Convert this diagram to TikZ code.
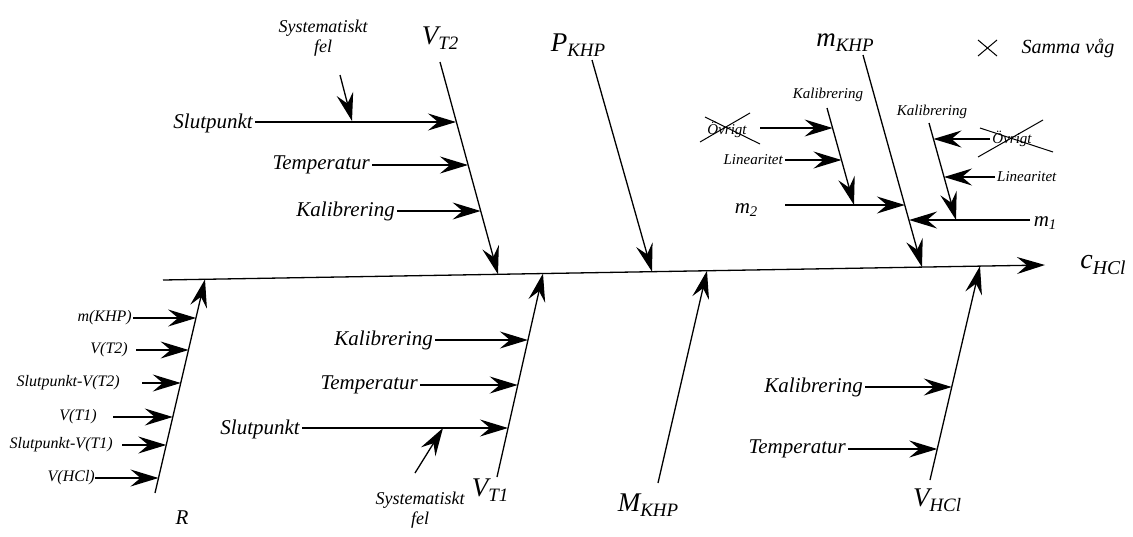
\documentclass[tikz,border=0pt]{standalone}
\usepackage{fontspec}
\setmainfont{Liberation Serif}
\usetikzlibrary{arrows.meta}
\newcommand{\symlab}[3]{{\fontsize{#3}{#3}\selectfont\itshape #1\raisebox{-0.4ex}{\fontsize{0.7\dimexpr#3pt\relax}{10}\selectfont #2}}}
\tikzset{
  arr/.style={line width=1.3pt,-{Stealth[length=28pt,width=17pt,inset=10pt]}},
  big/.style={font=\fontsize{21}{24}\selectfont\itshape, inner sep=2pt},
  mid/.style={font=\fontsize{18}{20}\selectfont\itshape, inner sep=1pt, align=center},
  sml/.style={font=\fontsize{16}{18}\selectfont\itshape, inner sep=0pt},
  tiny/.style={font=\fontsize{15}{17}\selectfont\itshape, inner sep=2pt},
  lab/.style={inner sep=0pt},
  strike/.style={line width=1pt}
}
\begin{document}
\begin{tikzpicture}[x=1pt,y=-1pt]
\useasboundingbox (0,0) rectangle (1133,536);
% spine
\coordinate (s0) at (163,280);
\coordinate (s1) at (1045,265);
\draw[arr] (s0) -- (s1);
\node[lab] (c) at (1103,265) {\symlab{c}{HCl}{28}};
% spine attachment points
\coordinate (aR) at (205,279.3);
\coordinate (aVT2) at (498,274.3);
\coordinate (aVT1) at (543,273.5);
\coordinate (aP) at (652,271.7);
\coordinate (aM) at (707,270.7);
\coordinate (amK) at (922,267.1);
\coordinate (aVH) at (980,266.1);

% ---------- V_T2 ----------
\node[lab] (VT2) at (440,38) {\symlab{V}{T2}{27}};
\coordinate (vt2top) at (440,62);
\draw[arr] (vt2top) -- (aVT2);
\node[mid] (sys1) at (323,38) {Systematiskt\\fel};
\coordinate (sys1s) at (340,75);
\coordinate (sys1e) at (352,121);
\draw[arr] (sys1s) -- (sys1e);
\node[big, anchor=east] (slut1) at (255,123) {Slutpunkt};
\coordinate (slut1e) at (456,122);
\draw[arr] (slut1.east |- 0,122) -- (slut1e);
\node[big, anchor=east] (temp1) at (372,165) {Temperatur};
\coordinate (temp1e) at (468,165);
\draw[arr] (temp1.east) -- (temp1e);
\node[big, anchor=east] (kal1) at (397,211) {Kalibrering};
\coordinate (kal1e) at (480.6,211);
\draw[arr] (kal1.east) -- (kal1e);

% ---------- P_KHP ----------
\node[lab] (PK) at (578,45) {\symlab{P}{KHP}{27}};
\coordinate (ptop) at (592,60);
\draw[arr] (ptop) -- (aP);

% ---------- M_KHP ----------
\node[lab] (MK) at (648,505) {\symlab{M}{KHP}{27}};
\coordinate (mbot) at (658,483);
\draw[arr] (mbot) -- (aM);

% ---------- V_T1 ----------
\node[lab] (VT1) at (490,490) {\symlab{V}{T1}{27}};
\coordinate (vt1bot) at (497,477);
\draw[arr] (vt1bot) -- (aVT1);
\node[big, anchor=east] (kal2) at (435,340) {Kalibrering};
\coordinate (kal2e) at (527.9,340);
\draw[arr] (kal2.east) -- (kal2e);
\node[big, anchor=east] (temp2) at (420,385) {Temperatur};
\coordinate (temp2e) at (517.7,385);
\draw[arr] (temp2.east) -- (temp2e);
\node[big, anchor=east] (slut2) at (302,429) {Slutpunkt};
\coordinate (slut2e) at (508,428);
\draw[arr] (slut2.east |- 0,428) -- (slut2e);
\node[mid] (sys2) at (420,510) {Systematiskt\\fel};
\coordinate (sys2s) at (415,473);
\coordinate (sys2e) at (443,428);
\draw[arr] (sys2s) -- (sys2e);

% ---------- R ----------
\node[lab, font=\fontsize{21}{24}\selectfont\itshape] (R) at (182,518) {R};
\coordinate (rbot) at (155,493);
\draw[arr] (rbot) -- (aR);
\node[sml, anchor=east] (r1) at (132,318) {m(KHP)};
\coordinate (r1s) at (133,318);
\coordinate (r1e) at (196.1,318);
\draw[arr] (r1s) -- (r1e);
\node[sml, anchor=east] (r2) at (128,350) {V(T2)};
\coordinate (r2s) at (136,350);
\coordinate (r2e) at (188.6,350);
\draw[arr] (r2s) -- (r2e);
\node[sml, anchor=east] (r3) at (120,383) {Slutpunkt-V(T2)};
\coordinate (r3s) at (142,383);
\coordinate (r3e) at (180.8,383);
\draw[arr] (r3s) -- (r3e);
\node[sml, anchor=east] (r4) at (97,417) {V(T1)};
\coordinate (r4s) at (113,417);
\coordinate (r4e) at (172.8,417);
\draw[arr] (r4s) -- (r4e);
\node[sml, anchor=east] (r5) at (113,445) {Slutpunkt-V(T1)};
\coordinate (r5s) at (122,445);
\coordinate (r5e) at (166.3,445);
\draw[arr] (r5s) -- (r5e);
\node[sml, anchor=east] (r6) at (95,478) {V(HCl)};
\coordinate (r6e) at (158.5,478);
\draw[arr] (r6.east) -- (r6e);

% ---------- V_HCl ----------
\node[lab] (VH) at (937,500) {\symlab{V}{HCl}{27}};
\coordinate (vhbot) at (930,480);
\draw[arr] (vhbot) -- (aVH);
\node[big, anchor=east] (kal3) at (865,387) {Kalibrering};
\coordinate (kal3e) at (951.8,387);
\draw[arr] (kal3.east) -- (kal3e);
\node[big, anchor=east] (temp3) at (848,449) {Temperatur};
\coordinate (temp3e) at (937.3,449);
\draw[arr] (temp3.east) -- (temp3e);

% ---------- m_KHP ----------
\node[lab] (mK) at (845,43) {\symlab{m}{KHP}{27}};
\coordinate (mktop) at (863,55);
\draw[arr] (mktop) -- (amK);
% m2 branch
\node[lab] (m2) at (746,210) {\symlab{m}{2}{21}};
\coordinate (m2s) at (785,205);
\coordinate (m2e) at (904.9,205);
\draw[arr] (m2s) -- (m2e);
% m1 branch
\node[lab] (m1) at (1045,223) {\symlab{m}{1}{21}};
\coordinate (m1s) at (1030,220);
\coordinate (m1e) at (909.1,220);
\draw[arr] (m1s) -- (m1e);
% left sub-bone
\node[tiny] (kal4) at (828,95) {Kalibrering};
\coordinate (k4top) at (827,108);
\coordinate (k4tip) at (854,205);
\draw[arr] (k4top) -- (k4tip);
\node[tiny] (ov1) at (727,130) {Övrigt};
\coordinate (ov1s) at (760,128);
\coordinate (ov1e) at (832.6,128);
\draw[arr] (ov1s) -- (ov1e);
\node[tiny, anchor=east] (lin1) at (785,160) {Linearitet};
\coordinate (lin1e) at (841.5,160);
\draw[arr] (lin1.east) -- (lin1e);
\draw[strike] (700,142) -- (750,113);
\draw[strike] (705,117) -- (760,144);
% right sub-bone
\node[tiny] (kal5) at (932,112) {Kalibrering};
\coordinate (k5top) at (929,123);
\coordinate (k5tip) at (956,220);
\draw[arr] (k5top) -- (k5tip);
\node[tiny] (ov2) at (1012,139) {Övrigt};
\coordinate (ov2e) at (933.5,139);
\draw[arr] (ov2.west) -- (ov2e);
\node[tiny, anchor=west] (lin2) at (995,177) {Linearitet};
\coordinate (lin2e) at (944,177);
\draw[arr] (lin2.west) -- (lin2e);
\draw[strike] (978,157) -- (1043,120);
\draw[strike] (980,128) -- (1053,152);

% ---------- legend ----------
\draw[line width=1pt] (978,40) -- (997,56);
\draw[line width=1pt] (978,56) -- (997,40);
\node[font=\fontsize{20}{22}\selectfont\itshape, anchor=west] (legend) at (1018,48) {Samma våg};
\end{tikzpicture}
\end{document}
